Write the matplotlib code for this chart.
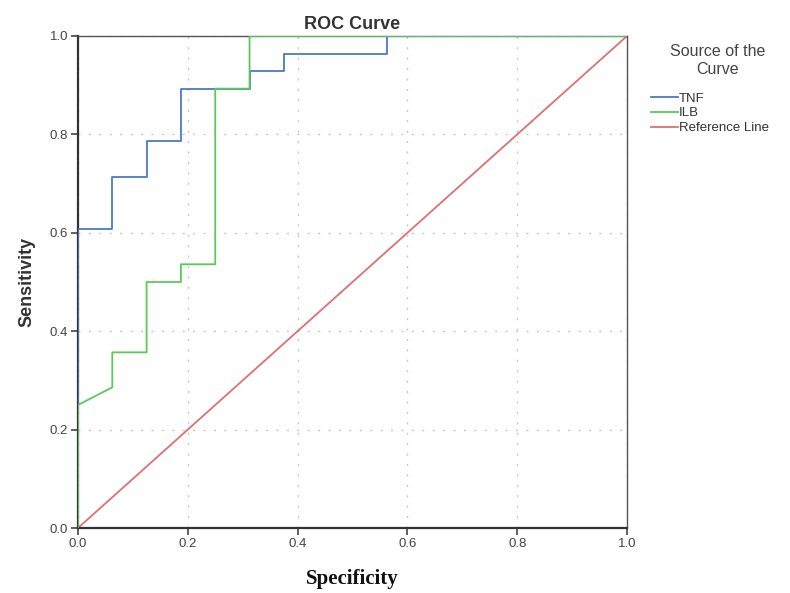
import matplotlib
matplotlib.use("Agg")
import matplotlib.pyplot as plt

plt.rcParams["font.family"] = ["Liberation Sans", "DejaVu Sans"]

# ROC data (x = 1 - specificity as plotted, labelled "Specificity")
tnf_x = [0.0, 0.0, 0.0625, 0.0625, 0.125, 0.125, 0.1875, 0.1875, 0.3125, 0.3125, 0.375, 0.375, 0.5625, 0.5625, 1.0]
tnf_y = [0.0, 0.607, 0.607, 0.714, 0.714, 0.786, 0.786, 0.893, 0.893, 0.929, 0.929, 0.964, 0.964, 1.0, 1.0]
ilb_x = [0.0, 0.0, 0.0625, 0.0625, 0.125, 0.125, 0.1875, 0.1875, 0.25, 0.25, 0.3125, 0.3125, 1.0]
ilb_y = [0.0, 0.25, 0.286, 0.357, 0.357, 0.5, 0.5, 0.536, 0.536, 0.893, 0.893, 1.0, 1.0]
ref_x = [0.0, 1.0]
ref_y = [0.0, 1.0]
ticks = [0.0, 0.2, 0.4, 0.6, 0.8, 1.0]
tick_labels = ["0.0", "0.2", "0.4", "0.6", "0.8", "1.0"]

fig = plt.figure(figsize=(7.9, 5.93), dpi=100)
ax = fig.add_axes([0.0987, 0.1096, 0.695, 0.8297])

ax.plot(tnf_x, tnf_y, color="#4a78c8", lw=1.3, label="TNF", zorder=3)
ax.plot(ilb_x, ilb_y, color="#5cc85c", lw=1.3, label="ILB", zorder=3)
ax.plot(ref_x, ref_y, color="#e07070", lw=1.3, label="Reference Line", zorder=2)

ax.set_xlim(0, 1)
ax.set_ylim(0, 1)
ax.set_xticks(ticks)
ax.set_xticklabels(tick_labels)
ax.set_yticks(ticks)
ax.set_yticklabels(tick_labels)
ax.tick_params(direction="out", length=5, width=1.2, labelsize=9.5, colors="#444444", pad=2)
ax.grid(True, linestyle=(0, (1.5, 6)), color="#c8c8c8", lw=1.0)

for side in ["left", "bottom"]:
    ax.spines[side].set_color("#333333")
    ax.spines[side].set_linewidth(1.6)
for side in ["top", "right"]:
    ax.spines[side].set_color("#555555")
    ax.spines[side].set_linewidth(1.0)

ax.set_title("ROC Curve", fontsize=13, fontweight="bold", color="#333333", pad=5)
ax.set_ylabel("Sensitivity", fontsize=13, fontweight="bold", color="#333333", labelpad=10)
ax.set_xlabel("Specificity", fontsize=15, fontweight="bold", family="Liberation Serif", color="#111111", labelpad=14)

fig.text(718 / 790, 1 - 52 / 593, "Source of the", ha="center", va="center", fontsize=11.5, color="#444444")
fig.text(718 / 790, 1 - 70 / 593, "Curve", ha="center", va="center", fontsize=11.5, color="#444444")

leg = ax.legend(loc="upper left", bbox_to_anchor=(646 / 790, 1 - 87 / 593), bbox_transform=fig.transFigure,
                frameon=False, fontsize=9.5, handlelength=2.0, handletextpad=0.1, labelspacing=0.2,
                borderaxespad=0.0)
for t in leg.get_texts():
    t.set_color("#333333")

fig.savefig("out.png", dpi=100)
